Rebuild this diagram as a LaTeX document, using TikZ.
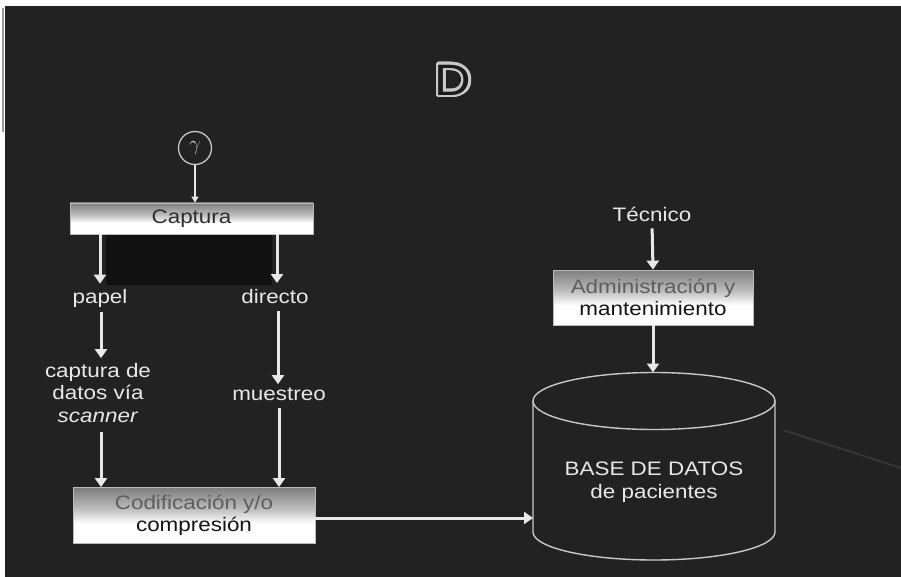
\documentclass[tikz,border=0pt]{standalone}
\usepackage{fontspec}
\setmainfont{Liberation Sans}[FakeStretch=1.15]
\usetikzlibrary{arrows.meta}

\definecolor{bg}{HTML}{222222}
\definecolor{fg}{HTML}{E8E8E8}
\definecolor{mask}{HTML}{111111}
\definecolor{boxline}{HTML}{BBBBBB}
\definecolor{boxtop}{HTML}{7E7E7E}
\definecolor{boxmid}{HTML}{BDBDBD}
\definecolor{dimtxt}{HTML}{5E5E5E}
\definecolor{darktxt}{HTML}{141414}
\definecolor{captxt}{HTML}{2E2E2E}
\definecolor{dline}{HTML}{C8C8C8}
\definecolor{dfill}{HTML}{1B1B1B}
\definecolor{streak}{HTML}{363636}
\definecolor{edge}{HTML}{9A9A9A}

% grey at the top of each process box, white in its lower part
% (offsets count from the bottom of the page; the box spans 25bp to 75bp)
\pgfdeclareverticalshading{boxshade}{100bp}{%
  color(0bp)=(white); color(25bp)=(white); color(43bp)=(white);
  color(56bp)=(boxmid); color(75bp)=(boxtop); color(100bp)=(boxtop)}

\newcommand{\lblfont}{\fontsize{19.5}{22.5}\selectfont}

% a letter drawn as a light outline round a dark core
\newcommand{\ringcopy}[3]{\rlap{\kern#1\raisebox{#2}{\textcolor{dline}{#3}}}}
\newcommand{\outlined}[1]{%
  \ringcopy{2.6pt}{0pt}{#1}\ringcopy{-2.6pt}{0pt}{#1}%
  \ringcopy{0pt}{2.6pt}{#1}\ringcopy{0pt}{-2.6pt}{#1}%
  \ringcopy{1.8pt}{1.8pt}{#1}\ringcopy{-1.8pt}{1.8pt}{#1}%
  \ringcopy{1.8pt}{-1.8pt}{#1}\ringcopy{-1.8pt}{-1.8pt}{#1}%
  \ringcopy{2.4pt}{1pt}{#1}\ringcopy{-2.4pt}{1pt}{#1}%
  \ringcopy{2.4pt}{-1pt}{#1}\ringcopy{-2.4pt}{-1pt}{#1}%
  \ringcopy{1pt}{2.4pt}{#1}\ringcopy{-1pt}{2.4pt}{#1}%
  \ringcopy{1pt}{-2.4pt}{#1}\ringcopy{-1pt}{-2.4pt}{#1}%
  \textcolor{dfill}{#1}}

\tikzset{
  lbl/.style={text=fg, font=\lblfont, align=center, inner sep=0pt},
  procbox/.style={draw=boxline, line width=0.8pt, shading=boxshade,
    font=\lblfont, align=center, inner sep=0pt},
  flow/.style={draw=fg, line width=3pt, -{Triangle[width=12pt,length=9pt]}},
  thinflow/.style={draw=fg, line width=1.2pt, -{Triangle[width=7pt,length=6pt]}},
  cyl/.style={draw=dline, line width=1.4pt},
  dletter/.style={font=\fontsize{44}{44}\selectfont, inner sep=0pt},
}

\begin{document}
\begin{tikzpicture}[x=1pt,y=-1pt]
\useasboundingbox (0,0) rectangle (901,577);

% page and dark slide
\fill[white] (0,0) rectangle (901,577);
\fill[bg] (5,6) rectangle (901,577);
\draw[edge, line width=1.5pt] (3,8) -- (3,132);
\draw[streak, line width=2pt] (783,430) -- (901,468);

% outlined title letter
\node[dletter] (title) at (453,80) {\outlined{D}};

% source
\node[circle, draw=dline, line width=1.3pt, minimum size=33pt, inner sep=0pt,
      text=dline, font=\fontsize{21}{21}\selectfont] (gam) at (195,148) {$\gamma$};

% capture stage
\node[procbox, minimum width=243pt, minimum height=31pt] (cap) at (191.5,218.5)
  {\textcolor{captxt}{Captura}};
\fill[mask] (106,234.5) rectangle (272,285);

\node[lbl, anchor=base] (papel) at (100,303) {papel};
\node[lbl, anchor=base] (direct) at (275,303) {directo};
\node[lbl] (scan) at (98,393) {captura de\\datos vía\\\textit{scanner}};
\node[lbl, anchor=base] (muest) at (279,400) {muestreo};

\node[procbox, minimum width=242pt, minimum height=56pt] (cod) at (194,515.5)
  {\textcolor{dimtxt}{Codificación y/o}\\\textcolor{darktxt}{compresión}};

% database side
\node[lbl, anchor=base] (tec) at (652,222) {Técnico};
\node[procbox, minimum width=200pt, minimum height=55pt] (admin) at (653,297.5)
  {\textcolor{dimtxt}{Administración y}\\\textcolor{darktxt}{mantenimiento}};

\draw[cyl] (654,401) ellipse [x radius=121, y radius=28.5];
\draw[cyl] (533,401) -- (533,532) arc[start angle=180, end angle=0, x radius=121, y radius=28] -- (775,401);
\node[lbl] (db) at (654,482) {BASE DE DATOS\\de pacientes};
\coordinate (dbtop) at (653,372.5);
\coordinate (dbleft) at (533,518);

% connectors
\draw[thinflow] (gam) -- (gam |- cap.north);
\draw[flow, shorten >=5pt] (cap.south -| papel) -- (papel.north);
\draw[flow, shorten >=5pt] (cap.south -| 277,0) -- (277,288);
\draw[flow, shorten <=5pt, shorten >=5pt] (papel.south -| 101,0) -- (scan.north -| 101,0);
\draw[flow, shorten <=8pt, shorten >=3pt] (direct.south -| 278,0) -- (muest.north -| 278,0);
\draw[flow, shorten <=9pt] (scan.south -| 101,0) -- (cod.north -| 101,0);
\draw[flow, shorten <=8pt] (muest.south -| 279,0) -- (cod.north -| 279,0);
\draw[flow] (cod.east |- dbleft) -- (dbleft);
\draw[flow, shorten <=6pt] (tec.south) -- (admin.north);
\draw[flow] (admin.south) -- (dbtop);
\end{tikzpicture}
\end{document}
